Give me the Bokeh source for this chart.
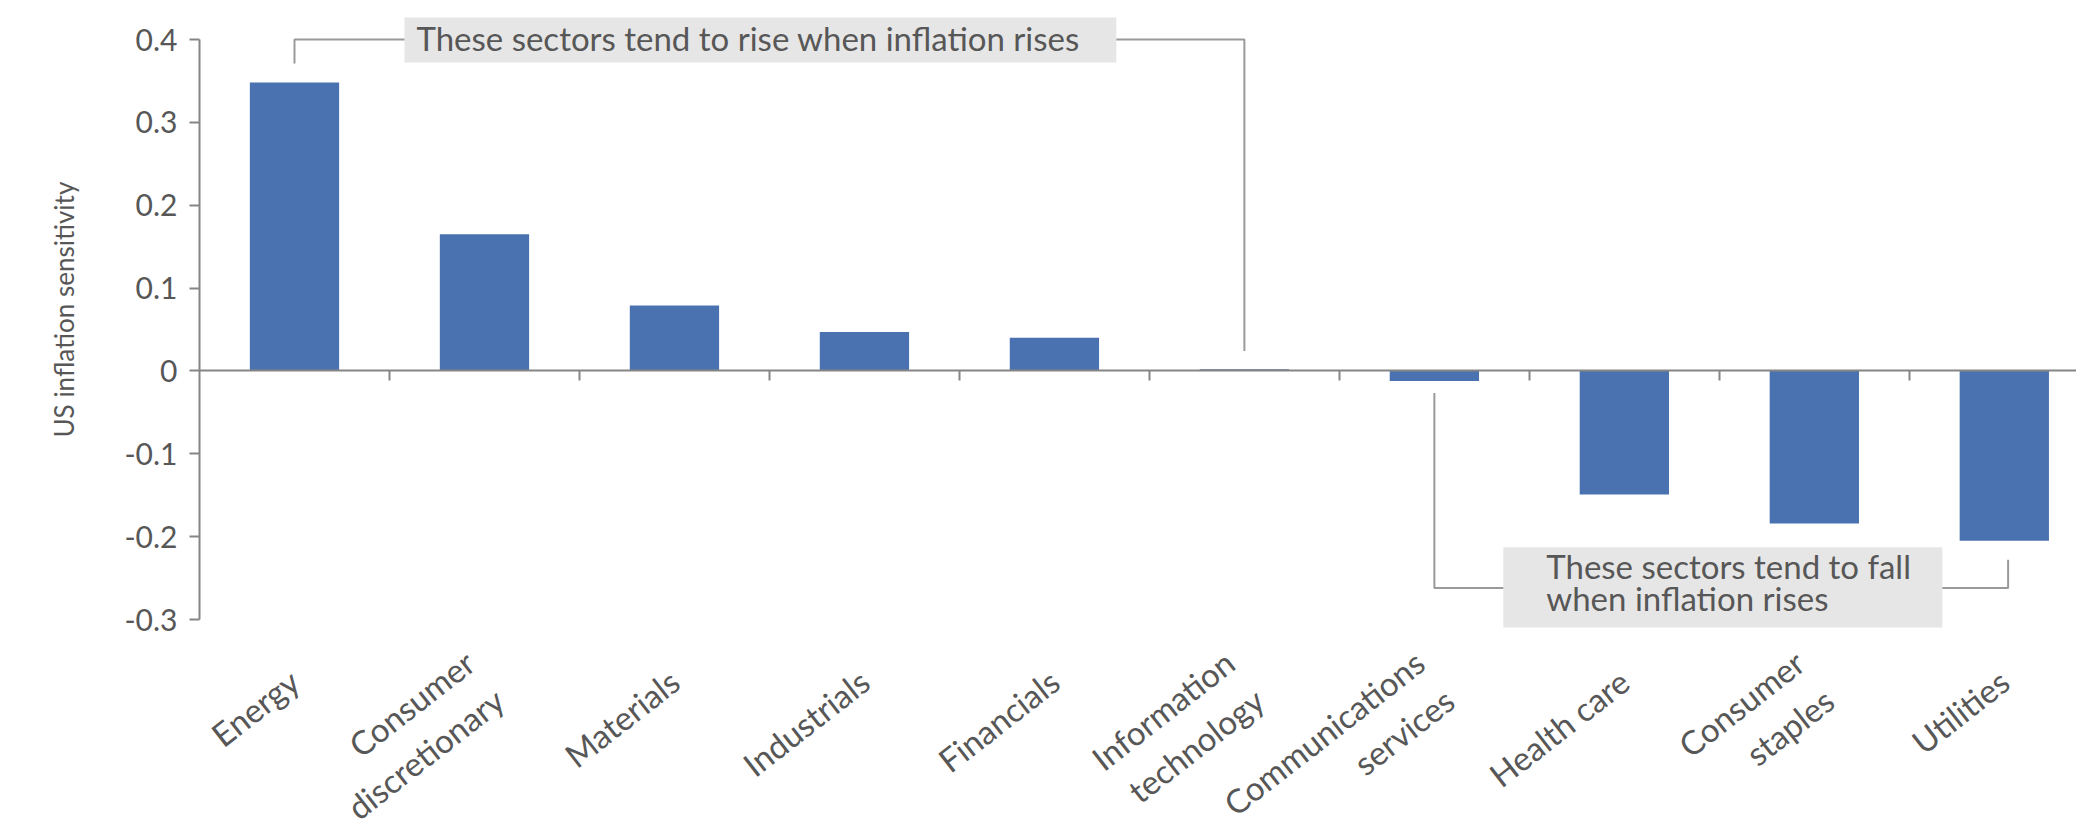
import math

from bokeh.plotting import figure
from bokeh.models import Range1d, LinearAxis, FixedTicker, Title
from bokeh.core.properties import value
from bokeh.embed import file_html
from bokeh.resources import INLINE

# --- data ---------------------------------------------------------------
sectors = [
    "Energy",
    "Consumer\ndiscretionary",
    "Materials",
    "Industrials",
    "Financials",
    "Information\ntechnology",
    "Communications\nservices",
    "Health care",
    "Consumer\nstaples",
    "Utilities",
]
sensitivity = [0.348, 0.165, 0.079, 0.047, 0.040, 0.002, -0.012, -0.149, -0.184, -0.205]

y_ticks = [-0.3, -0.2, -0.1, 0.0, 0.1, 0.2, 0.3, 0.4]
y_tick_labels = ["-0.3", "-0.2", "-0.1", "0", "0.1", "0.2", "0.3", "0.4"]
y_title = "US inflation sensitivity"

rise_note = "These sectors tend to rise when inflation rises"
fall_note = ["These sectors tend to fall", "when inflation rises"]

# --- styling ------------------------------------------------------------
FONT = "Lato"
TEXT_COLOR = "#575757"
AXIS_COLOR = "#858585"
BRACKET_COLOR = "#9a9a9a"
BAR_COLOR = "#4a72b0"
NOTE_FILL = "#e6e6e6"

n = len(sectors)
centers = [i + 0.5 for i in range(n)]
boundaries = list(range(1, n))

# the frame runs to the bottom edge so the slanted sector names fit inside it
p = figure(
    width=2076,
    height=829,
    x_range=Range1d(0, 9.88),
    y_range=Range1d(-0.5534, 0.435),
    x_axis_location=None,
    y_axis_location=None,
    output_backend="svg",
    toolbar_location=None,
    min_border_left=199,
    min_border_right=0,
    min_border_top=10,
    min_border_bottom=0,
)
p.outline_line_color = None
p.grid.grid_line_color = None
p.background_fill_color = "white"
p.border_fill_color = "white"

# y axis, drawn only over the labelled span
yaxis = LinearAxis(
    ticker=FixedTicker(ticks=y_ticks),
    bounds=(-0.3, 0.4),
    major_label_overrides=dict(zip(y_ticks, y_tick_labels)),
    major_label_text_font=FONT,
    major_label_text_font_size="30px",
    major_label_text_color=TEXT_COLOR,
    major_label_standoff=12,
    major_tick_out=10,
    major_tick_in=0,
    minor_tick_line_color=None,
    axis_line_color=AXIS_COLOR,
    axis_line_width=2,
    major_tick_line_color=AXIS_COLOR,
    major_tick_line_width=2,
)
p.add_layout(yaxis, "left")

# vertical y title, starting well above the bottom edge
p.add_layout(Title(
    text=y_title, align="left", offset=392, standoff=83,
    text_font=FONT, text_font_size="26px", text_font_style="normal",
    text_color=TEXT_COLOR,
), "left")

# zero line with ticks between the sectors
zero_axis = LinearAxis(
    ticker=FixedTicker(ticks=boundaries),
    fixed_location=0,
    major_label_overrides={b: "" for b in boundaries},
    major_label_text_font_size="0px",
    major_label_standoff=0,
    major_tick_in=10,
    major_tick_out=0,
    minor_tick_line_color=None,
    axis_line_color=AXIS_COLOR,
    axis_line_width=2,
    major_tick_line_color=AXIS_COLOR,
    major_tick_line_width=2,
)
p.add_layout(zero_axis, "above")

# bars
p.vbar(x=centers, top=sensitivity, bottom=0, width=0.47,
       fill_color=BAR_COLOR, line_color=None)

# slanted sector names below the -0.3 level
p.text(x=centers, y=[-0.369] * n, text=sectors, angle=math.radians(38),
       text_font=value(FONT), text_font_size="33px", text_color=TEXT_COLOR,
       text_align="right", text_baseline="middle")

# "rise" note with its bracket from Energy to Information technology
p.quad(left=[1.079], right=[4.826], bottom=[0.3722], top=[0.4265],
       fill_color=NOTE_FILL, line_color=None)
p.text(x=[1.142], y=[0.4013], text=[rise_note],
       text_font=value(FONT), text_font_size="33px", text_color=TEXT_COLOR,
       text_align="left", text_baseline="middle")
p.multi_line(
    xs=[[0.5, 0.5, 1.079], [4.826, 5.5, 5.5]],
    ys=[[0.371, 0.4, 0.4], [0.4, 0.4, 0.024]],
    line_color=BRACKET_COLOR, line_width=2,
)

# "fall" note with its bracket from Communications services to Utilities
p.quad(left=[6.863], right=[9.174], bottom=[-0.3095], top=[-0.2129],
       fill_color=NOTE_FILL, line_color=None)
p.text(x=[7.089, 7.089], y=[-0.2353, -0.2746], text=fall_note,
       text_font=value(FONT), text_font_size="33px", text_color=TEXT_COLOR,
       text_align="left", text_baseline="middle")
p.multi_line(
    xs=[[6.5, 6.5, 6.863], [9.174, 9.52, 9.52]],
    ys=[[-0.0265, -0.262, -0.262], [-0.262, -0.262, -0.228]],
    line_color=BRACKET_COLOR, line_width=2,
)

with open("out.html", "w") as f:
    f.write(file_html(p, INLINE))
